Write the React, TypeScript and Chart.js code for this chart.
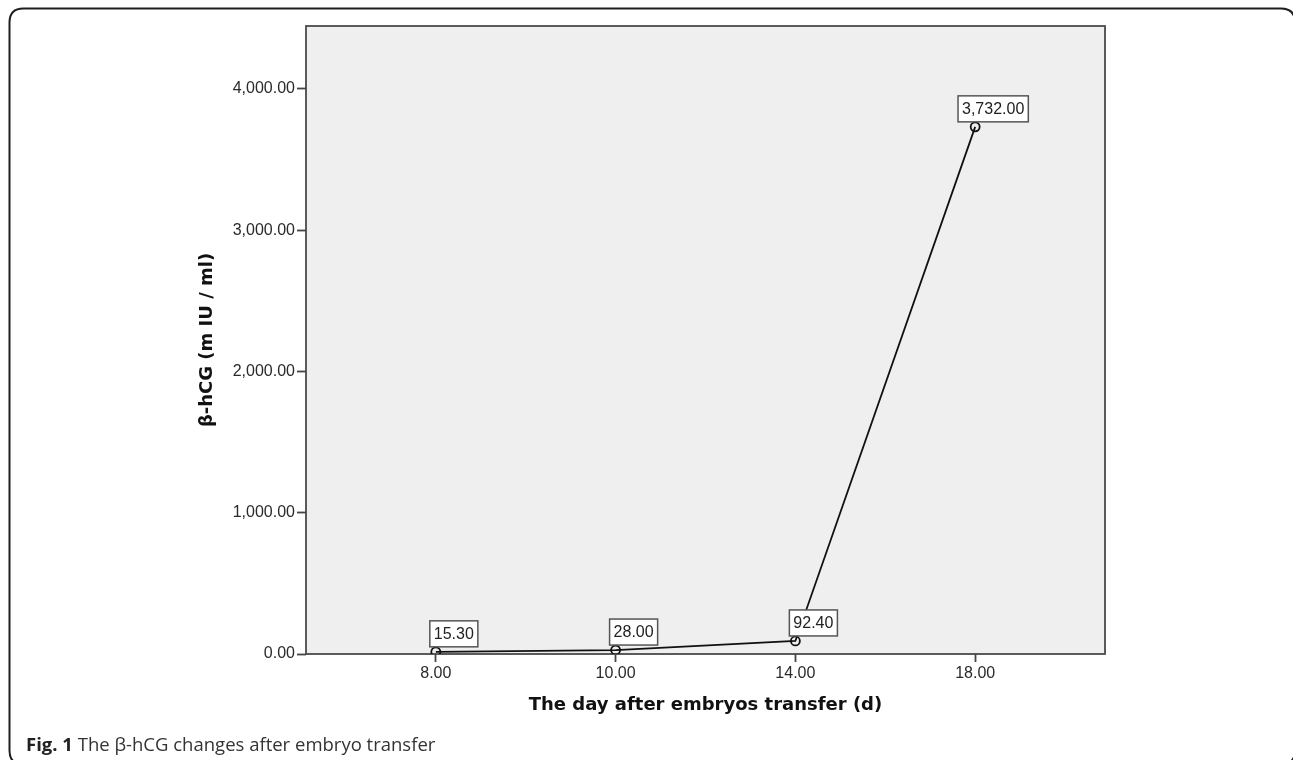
import React, { useEffect, useRef } from "react";
import { Chart, registerables } from "chart.js";

Chart.register(...registerables);

// ---- data ----
const dayLabels = ["8.00", "10.00", "14.00", "18.00"];
const hcgValues = [15.3, 28.0, 92.4, 3732.0];
const yTickValues = [0, 1000, 2000, 3000, 4000];
const yAxisMax = 4446;
const xTitle = "The day after embryos transfer (d)";
const yTitle = "β-hCG (m IU / ml)";
const captionBold = "Fig. 1";
const captionText = " The β-hCG changes after embryo transfer";

const fmt = (v: number) =>
  v.toLocaleString("en-US", { minimumFractionDigits: 2, maximumFractionDigits: 2 });

const TICK_FONT = { family: "'Liberation Sans', Arial, sans-serif", size: 16 };
const TITLE_FONT = { family: "'DejaVu Sans', sans-serif", size: 18, weight: "bold" as const };

function roundRectPath(ctx: CanvasRenderingContext2D, x: number, y: number, w: number, h: number, r: number) {
  ctx.beginPath();
  ctx.moveTo(x + r, y);
  ctx.lineTo(x + w - r, y);
  ctx.quadraticCurveTo(x + w, y, x + w, y + r);
  ctx.lineTo(x + w, y + h - r);
  ctx.quadraticCurveTo(x + w, y + h, x + w - r, y + h);
  ctx.lineTo(x + r, y + h);
  ctx.quadraticCurveTo(x, y + h, x, y + h - r);
  ctx.lineTo(x, y + r);
  ctx.quadraticCurveTo(x, y, x + r, y);
  ctx.closePath();
}

const decorPlugin = {
  id: "decor",
  beforeDraw(chart: any) {
    const { ctx, chartArea: a } = chart;
    ctx.save();
    ctx.fillStyle = "#ffffff";
    ctx.fillRect(0, 0, chart.width, chart.height);
    ctx.strokeStyle = "#1e1e1e";
    ctx.lineWidth = 2;
    roundRectPath(ctx, 9.5, 8.5, 1285.5, 756, 14);
    ctx.stroke();
    ctx.fillStyle = "#efefef";
    ctx.fillRect(a.left, a.top, a.right - a.left, a.bottom - a.top);
    ctx.strokeStyle = "#4a4a4a";
    ctx.lineWidth = 1.8;
    ctx.strokeRect(a.left, a.top, a.right - a.left, a.bottom - a.top);
    ctx.restore();
  },
  afterDatasetsDraw(chart: any) {
    const { ctx } = chart;
    const meta = chart.getDatasetMeta(0);
    ctx.save();
    ctx.font = "16px 'Liberation Sans', Arial, sans-serif";
    meta.data.forEach((pt: any, i: number) => {
      const text = fmt(hcgValues[i]);
      const tw = ctx.measureText(text).width;
      const bh = 26;
      const bw = tw + 8;
      const bx = pt.x + 18 - bw / 2;
      const by = pt.y - 5 - bh;
      ctx.fillStyle = "#ffffff";
      ctx.fillRect(bx, by, bw, bh);
      ctx.strokeStyle = "#555555";
      ctx.lineWidth = 1.5;
      ctx.strokeRect(bx, by, bw, bh);
      ctx.fillStyle = "#222222";
      ctx.textBaseline = "middle";
      ctx.textAlign = "center";
      ctx.fillText(text, bx + bw / 2, by + bh / 2 + 1);
    });
    ctx.restore();
  },
  afterDraw(chart: any) {
    const { ctx } = chart;
    ctx.save();
    ctx.textBaseline = "alphabetic";
    ctx.textAlign = "left";
    ctx.font = "bold 18.5px 'Open Sans', sans-serif";
    ctx.fillStyle = "#222222";
    ctx.fillText(captionBold, 26, 751);
    const w = ctx.measureText(captionBold).width;
    ctx.font = "18.5px 'Open Sans', sans-serif";
    ctx.fillStyle = "#333333";
    ctx.fillText(captionText, 26 + w, 751);
    ctx.restore();
  },
};

export default function App() {
  const ref = useRef<HTMLCanvasElement | null>(null);

  useEffect(() => {
    if (!ref.current) return;
    const chart = new Chart(ref.current, {
      type: "line",
      data: {
        datasets: [
          {
            data: hcgValues.map((v, i) => ({ x: i, y: v })),
            borderColor: "#111111",
            borderWidth: 1.8,
            tension: 0,
            pointRadius: 4.5,
            pointBorderWidth: 1.8,
            pointBorderColor: "#111111",
            pointBackgroundColor: "rgba(0,0,0,0)",
            fill: false,
          },
        ],
      },
      options: {
        animation: false,
        responsive: false,
        devicePixelRatio: 1,
        layout: { padding: { top: 26, right: 188, left: 0, bottom: 0 } },
        plugins: { legend: { display: false }, tooltip: { enabled: false } },
        scales: {
          x: {
            type: "linear",
            min: -0.7222,
            max: 3.7222,
            afterBuildTicks: (s: any) => {
              s.ticks = dayLabels.map((_, i) => ({ value: i }));
            },
            afterFit: (s: any) => {
              s.height = 106;
            },
            ticks: {
              callback: (v: any) => dayLabels[Number(v)] ?? "",
              font: TICK_FONT,
              color: "#2a2a2a",
              padding: 2,
              maxRotation: 0,
              autoSkip: false,
            },
            grid: { drawOnChartArea: false, drawTicks: true, tickLength: 8, color: "#444444", tickWidth: 1.8 },
            border: { display: false },
            title: {
              display: true,
              text: xTitle,
              font: TITLE_FONT,
              color: "#111111",
              padding: { top: 0, bottom: 44 },
            },
          },
          y: {
            type: "linear",
            min: 0,
            max: yAxisMax,
            afterBuildTicks: (s: any) => {
              s.ticks = yTickValues.map((v) => ({ value: v }));
            },
            afterFit: (s: any) => {
              s.width = 306;
            },
            ticks: {
              callback: (v: any) => fmt(Number(v)),
              font: TICK_FONT,
              color: "#2a2a2a",
              padding: 2,
            },
            grid: { drawOnChartArea: false, drawTicks: true, tickLength: 9, color: "#444444", tickWidth: 1.8 },
            border: { display: false },
            title: {
              display: true,
              text: yTitle,
              font: TITLE_FONT,
              color: "#111111",
              padding: { top: 197, bottom: 0 },
            },
          },
        },
      },
      plugins: [decorPlugin],
    } as any);
    return () => chart.destroy();
  }, []);

  return (
    <div style={{ position: "fixed", left: 0, top: 0, width: 1293, height: 760 }}>
      <canvas ref={ref} width={1293} height={760} style={{ display: "block" }} />
    </div>
  );
}
